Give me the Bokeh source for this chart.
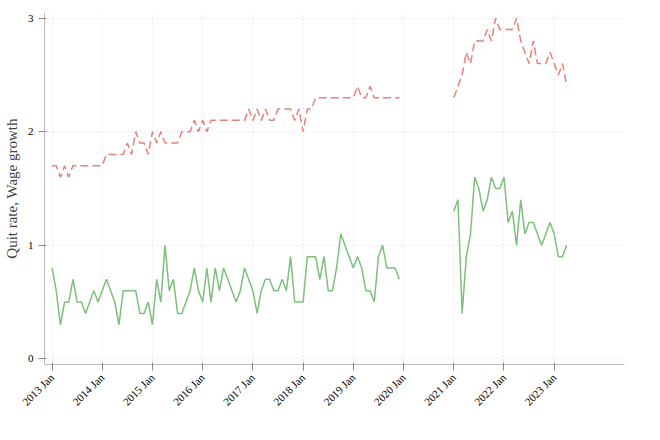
import numpy as np
from bokeh.plotting import figure
from bokeh.models import Legend, LegendItem, FixedTicker
from bokeh.embed import file_html
from bokeh.resources import INLINE

quit_2013_2019 = [1.7,1.7,1.6,1.7,1.6,1.7,1.7,1.7,1.7,1.7,1.7,1.7,
                  1.7,1.8,1.8,1.8,1.8,1.8,1.9,1.8,2.0,1.9,1.9,1.8,
                  2.0,1.9,2.0,1.9,1.9,1.9,1.9,2.0,2.0,2.0,2.1,2.0,
                  2.1,2.0,2.1,2.1,2.1,2.1,2.1,2.1,2.1,2.1,2.1,2.2,
                  2.1,2.2,2.1,2.2,2.1,2.1,2.2,2.2,2.2,2.2,2.1,2.2,
                  2.0,2.2,2.2,2.3,2.3,2.3,2.3,2.3,2.3,2.3,2.3,2.3,
                  2.3,2.4,2.3,2.3,2.4,2.3,2.3,2.3,2.3,2.3,2.3,2.3]
wage_2013_2019 = [0.8,0.6,0.3,0.5,0.5,0.7,0.5,0.5,0.4,0.5,0.6,0.5,
                  0.6,0.7,0.6,0.5,0.3,0.6,0.6,0.6,0.6,0.4,0.4,0.5,
                  0.3,0.7,0.5,1.0,0.6,0.7,0.4,0.4,0.5,0.6,0.8,0.6,
                  0.5,0.8,0.5,0.8,0.6,0.8,0.7,0.6,0.5,0.6,0.8,0.7,
                  0.6,0.4,0.6,0.7,0.7,0.6,0.6,0.7,0.6,0.9,0.5,0.5,
                  0.5,0.9,0.9,0.9,0.7,0.9,0.6,0.6,0.8,1.1,1.0,0.9,
                  0.8,0.9,0.8,0.6,0.6,0.5,0.9,1.0,0.8,0.8,0.8,0.7]
quit_2021_2023 = [2.3,2.4,2.5,2.7,2.6,2.8,2.8,2.8,2.9,2.8,3.0,2.9,
                  2.9,2.9,2.9,3.0,2.8,2.7,2.6,2.8,2.6,2.6,2.6,2.7,
                  2.6,2.5,2.6,2.4]
wage_2021_2023 = [1.3,1.4,0.4,0.9,1.1,1.6,1.5,1.3,1.4,1.6,1.5,1.5,
                  1.6,1.2,1.3,1.0,1.4,1.1,1.2,1.2,1.1,1.0,1.1,1.2,
                  1.1,0.9,0.9,1.0]
tick_labels = ["%d Jan" % y for y in range(2013, 2024)]

nan12 = [np.nan] * 12
quit = quit_2013_2019 + nan12 + quit_2021_2023
wage = wage_2013_2019 + nan12 + wage_2021_2023
t = [2013 + i / 12 for i in range(len(quit))]

p = figure(width=644, height=424, output_backend="svg", toolbar_location=None,
           x_range=(2012.85, 2024.4), y_range=(-0.05, 3.05),
           min_border_left=40, min_border_right=20, min_border_top=12,
           min_border_bottom=60)
p.outline_line_color = None
p.background_fill_color = "white"
for g in (p.xgrid, p.ygrid):
    g.grid_line_color = "#dddddd"
    g.grid_line_dash = "1 3"
p.xaxis.ticker = FixedTicker(ticks=list(range(2013, 2024)))
p.xaxis.major_label_overrides = {y: l for y, l in zip(range(2013, 2024), tick_labels)}
p.xaxis.major_label_orientation = np.pi / 4
p.yaxis.ticker = FixedTicker(ticks=[0, 1, 2, 3])
p.yaxis.axis_label = "Quit rate, Wage growth"
for ax in (p.xaxis, p.yaxis):
    ax.axis_line_color = "#bbbbbb"
    ax.major_tick_line_color = "#888888"
    ax.minor_tick_line_color = None
    ax.major_label_text_font = "Liberation Serif"
    ax.major_label_text_font_size = "11px"
    ax.major_label_text_color = "black"
    ax.axis_label_text_font = "Liberation Serif"
    ax.axis_label_text_font_style = "normal"
    ax.axis_label_text_font_size = "15px"

r1 = p.line(t, quit, line_color="#e8807a", line_width=1.5, line_dash="8 4")
r2 = p.line(t, wage, line_color="#7cc07c", line_width=1.5)
leg = Legend(items=[LegendItem(label="Quit Rate", renderers=[r1]),
                    LegendItem(label="Nomnal Wage Growth (3 month)", renderers=[r2])],
             location=(180, -108), orientation="vertical")
leg.border_line_color = None
leg.background_fill_alpha = 0
leg.label_text_font = "Liberation Serif"
leg.label_text_font_size = "11px"
leg.glyph_width = 30
leg.spacing = 0
leg.padding = 2
leg.margin = 0
p.add_layout(leg, "center")

open("out.html", "w").write(file_html(p, INLINE))
